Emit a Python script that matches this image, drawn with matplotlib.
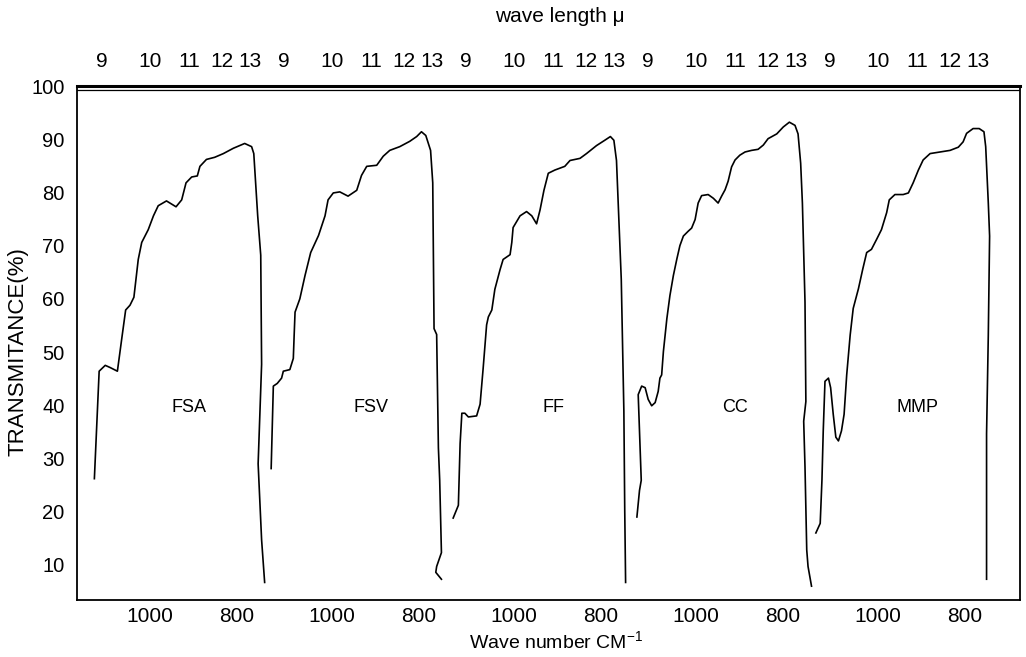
import numpy as np
import matplotlib
matplotlib.use("Agg")
import matplotlib.pyplot as plt

plt.rcParams['font.family'] = ['Liberation Sans', 'DejaVu Sans']

# IR spectra: wave number (cm-1) and transmittance (%)
names = ['FSA', 'FSV', 'FF', 'CC', 'MMP']

fsa_wn = [1128, 1117, 1103, 1092, 1075, 1065, 1056, 1046, 1037, 1027, 1019, 1004,
          992, 981, 962, 940, 927, 917, 904, 891, 885, 870, 851, 831, 808, 782,
          766, 761, 752, 745, 743, 751, 743, 736]
fsa_t = [26.2, 46.4, 47.5, 47.1, 46.4, 52.5, 57.9, 58.8, 60.3, 67.4, 70.6, 73.0,
         75.6, 77.5, 78.4, 77.3, 78.6, 81.8, 82.9, 83.1, 84.9, 86.2, 86.6, 87.3,
         88.3, 89.2, 88.6, 87.3, 75.6, 68.2, 47.7, 29.0, 14.7, 6.7]

fsv_wn = [1140, 1135, 1126, 1116, 1112, 1097, 1089, 1087, 1085, 1074, 1062, 1049,
          1031, 1016, 1009, 997, 982, 963, 943, 932, 920, 897, 882, 867, 844, 821,
          805, 794, 784, 773, 768, 765, 759, 755, 752, 748, 759, 761, 748]
fsv_t = [28.1, 43.6, 44.1, 45.1, 46.4, 46.7, 48.8, 53.3, 57.5, 60.0, 64.4, 68.7,
         71.9, 75.6, 78.6, 79.9, 80.1, 79.3, 80.4, 83.2, 84.9, 85.1, 86.8, 87.9,
         88.6, 89.6, 90.5, 91.4, 90.7, 87.9, 81.8, 54.4, 53.3, 32.0, 25.9, 12.3,
         9.7, 8.6, 7.3]

ff_wn = [1140, 1128, 1124, 1120, 1113, 1105, 1086, 1078, 1071, 1063, 1059, 1051,
         1044, 1032, 1025, 1009, 1005, 1002, 986, 971, 959, 948, 940, 931, 921,
         906, 883, 871, 848, 833, 810, 791, 778, 770, 764, 753, 747, 745, 743]
ff_t = [18.8, 21.2, 32.8, 38.5, 38.5, 37.8, 38.0, 40.2, 46.9, 55.1, 56.6, 57.9,
        61.8, 65.5, 67.4, 68.3, 70.6, 73.4, 75.6, 76.4, 75.6, 74.1, 76.7, 80.4,
        83.6, 84.2, 84.9, 86.0, 86.4, 87.3, 88.8, 89.8, 90.5, 89.8, 86.0, 63.7,
        38.9, 20.3, 6.7]

cc_wn = [1136, 1130, 1126, 1133, 1125, 1117, 1110, 1102, 1094, 1087, 1083, 1079,
         1075, 1067, 1060, 1052, 1044, 1037, 1029, 1018, 1010, 1002, 995, 987, 972,
         960, 949, 941, 933, 926, 918, 910, 899, 887, 872, 857, 845, 834, 814, 799,
         785, 772, 765, 759, 755, 749, 747, 752, 749, 745, 742, 734]
cc_t = [19.0, 24.0, 25.9, 42.0, 43.6, 43.3, 41.1, 39.9, 40.5, 42.6, 45.1, 45.7,
        50.1, 56.3, 60.6, 64.4, 67.5, 70.0, 71.8, 72.7, 73.3, 74.9, 78.0, 79.4,
        79.6, 78.9, 78.0, 79.3, 80.5, 82.1, 84.8, 86.1, 87.0, 87.6, 87.9, 88.1,
        88.9, 90.1, 91.0, 92.3, 93.2, 92.6, 91.0, 85.5, 78.0, 59.4, 40.7, 37.0,
        28.4, 12.8, 9.7, 6.0]

mmp_wn = [1143, 1133, 1129, 1126, 1122, 1114, 1109, 1103, 1097, 1091, 1084, 1078,
          1072, 1064, 1057, 1045, 1035, 1026, 1015, 1003, 992, 980, 974, 961, 942,
          930, 919, 907, 896, 880, 857, 834, 815, 804, 796, 781, 767, 756, 752, 746,
          743, 746, 750, 750]
mmp_t = [16.0, 17.8, 25.9, 35.2, 44.5, 45.1, 43.3, 38.3, 34.0, 33.3, 35.2, 38.3,
         45.7, 53.2, 58.2, 61.9, 65.6, 68.7, 69.3, 71.2, 73.0, 76.2, 78.6, 79.6,
         79.6, 79.9, 81.8, 84.2, 86.1, 87.3, 87.6, 87.9, 88.5, 89.5, 91.1, 92.0,
         92.0, 91.4, 88.6, 78.0, 71.8, 53.2, 34.6, 7.3]

spectra_wn = [fsa_wn, fsv_wn, ff_wn, cc_wn, mmp_wn]
spectra_t = [fsa_t, fsv_t, ff_t, cc_t, mmp_t]

wn_ticks = [1000, 800]
wl_ticks = [9, 10, 11, 12, 13]
t_ticks = [10, 20, 30, 40, 50, 60, 70, 80, 90, 100]

W, H = 1026, 657
fig = plt.figure(figsize=(W / 100, H / 100), dpi=100)

# outer frame carrying the transmittance axis
frame = fig.add_axes([77 / W, 57 / H, 943 / W, 514 / H])
frame.set_xlim(0, 1)
frame.set_ylim(3.4, 100)
frame.set_xticks([])
frame.set_yticks(t_ticks)
frame.tick_params(axis='y', length=0, pad=9, labelsize=14.5)
for s in frame.spines.values():
    s.set_linewidth(1.3)
frame.spines['top'].set_linewidth(2.2)
frame.axhline(99.2, color='black', lw=0.9)

# one transparent panel per sample
for i, name in enumerate(names):
    ax = fig.add_axes([(77 + 182 * i) / W, 57 / H, 182 / W, 514 / H])
    ax.patch.set_visible(False)
    for s in ax.spines.values():
        s.set_visible(False)
    ax.set_xlim(1168, 749)
    ax.set_ylim(3.4, 100)
    ax.plot(spectra_wn[i], spectra_t[i], color='black', lw=1.2, clip_on=False)
    ax.set_xticks(wn_ticks)
    ax.set_yticks([])
    ax.tick_params(axis='x', length=0, pad=5, labelsize=15)

    sec = ax.secondary_xaxis('top', functions=(lambda x: 1e4 / np.maximum(x, 1e-6),
                                               lambda x: 1e4 / np.maximum(x, 1e-6)))
    sec.set_xticks(wl_ticks)
    sec.tick_params(length=0, pad=11, labelsize=15)
    sec.spines['top'].set_visible(False)

    ax.text(910, 39.5, name, ha='center', va='center', fontsize=13)

fig.text(18 / W, 1 - 352 / H, 'TRANSMITANCE(%)', rotation=90,
         ha='center', va='center', fontsize=16)
fig.text(556 / W, 1 - 642 / H, 'Wave number CM$^{\\mathregular{-1}}$',
         ha='center', va='center', fontsize=14)
fig.text(560 / W, 1 - 17 / H, 'wave length \u03bc', ha='center', va='center', fontsize=15)

fig.savefig('out.png', dpi=100)
